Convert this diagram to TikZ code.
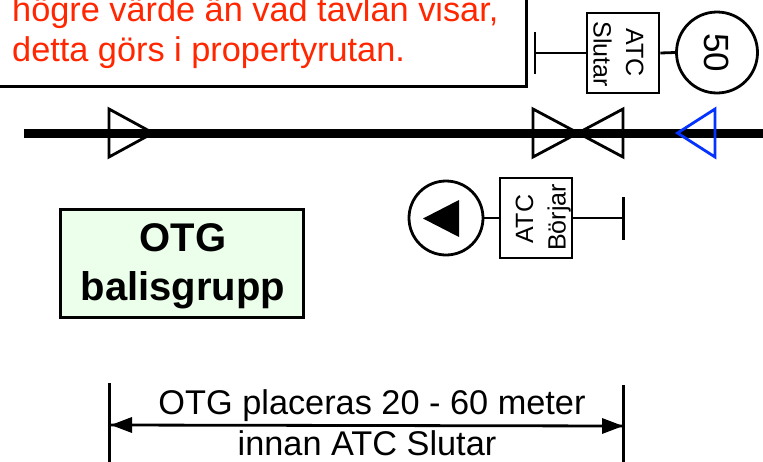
\documentclass[tikz,border=0pt]{standalone}
\usepackage{fontspec}
\setmainfont{Liberation Sans}
\definecolor{alarmred}{RGB}{255,38,0}
\definecolor{signalblue}{RGB}{4,51,255}
\definecolor{otggreen}{RGB}{235,255,235}
\tikzset{
  lw/.style={line width=2.8pt,black},
  tri/.style={line width=2.8pt,miter limit=10,line join=miter},
  redtext/.style={anchor=base west,inner sep=0pt,text=alarmred,font=\fontsize{34.3}{40}\selectfont},
  dimtext/.style={anchor=base,inner sep=0pt,font=\fontsize{34.3}{40}\selectfont},
  atcbox/.style={draw,line width=2.8pt,fill=white,inner sep=0pt,minimum width=72pt,minimum height=80pt},
  atctext/.style={anchor=base,inner sep=0pt,font=\fontsize{25}{30}\selectfont},
  sigcircle/.style={draw,circle,line width=2.8pt,inner sep=0pt,fill=white},
}
\begin{document}
\begin{tikzpicture}[x=1pt,y=-1pt]
\useasboundingbox (0,0) rectangle (763,461);
\clip (0,0) rectangle (763,461);
% text panel
\node[draw,line width=3pt,fill=white,minimum width=560pt,minimum height=110pt,inner sep=0pt] (panel) at (246.5,31) {};
\node[redtext] (line1) at (12,21) {högre värde än vad tavlan visar,};
\node[redtext] (line2) at (12,61) {detta görs i propertyrutan.};
% track
\coordinate (trackL) at (24,133.5);
\coordinate (trackR) at (770,133.5);
% triangles
\draw[tri] (109,109) -- (153,133) -- (109,157) -- cycle;
\draw[tri] (533,109) -- (578,133) -- (533,157) -- cycle;
\draw[tri] (623,109) -- (578,133) -- (623,157) -- cycle;
\draw[line width=8.5pt] (trackL) -- (trackR);
\draw[tri,signalblue] (715,109) -- (677.5,133) -- (715,157) -- cycle;
% ATC Slutar
\node[atcbox] (slutar) at (623,53) {};
\node[atctext,rotate=-90] (slutarA) at (626,52.5) {ATC};
\node[atctext,rotate=-90] (slutarB) at (593.5,54) {Slutar};
\node[sigcircle,minimum size=81pt] (c50) at (717,52.5) {\rotatebox{-90}{\fontsize{35}{35}\selectfont 50}};
\coordinate (tS) at (535,53);
\coordinate (tS1) at (535,32);
\coordinate (tS2) at (535,74);
\draw[lw] (tS1) -- (tS2);
\draw[lw] (tS) -- (slutar.west);
\draw[lw] (slutar.east) -- (c50.west);
% ATC Borjar
\node[atcbox] (borjar) at (536,218) {};
\node[atctext,rotate=90] (borjarA) at (533,219) {ATC};
\node[atctext,rotate=90] (borjarB) at (565.5,217.5) {Börjar};
\node[sigcircle,minimum size=74pt] (cB) at (446,218) {};
\fill (423,218.5) -- (459,200) -- (459,237) -- cycle;
\coordinate (tB) at (623.5,218);
\coordinate (tB1) at (623.5,197);
\coordinate (tB2) at (623.5,240);
\draw[lw] (tB1) -- (tB2);
\draw[lw] (borjar.east) -- (tB);
\draw[lw] (cB.east) -- (borjar.west);
% OTG box
\node[draw,line width=2.5pt,fill=otggreen,minimum width=243pt,minimum height=108pt,inner sep=0pt] (otg) at (182,263.5) {};
\node[anchor=base,inner sep=0pt,font=\fontsize{40}{48}\selectfont\bfseries] (otg1) at (183,251) {OTG};
\node[anchor=base,inner sep=0pt,font=\fontsize{40}{48}\selectfont\bfseries] (otg2) at (183,300) {balisgrupp};
% dimension
\coordinate (dL1) at (109.5,383);
\coordinate (dL2) at (109.5,465);
\coordinate (dR1) at (623.5,385);
\coordinate (dR2) at (623.5,465);
\coordinate (aL) at (111,425);
\coordinate (aR) at (623,426);
\draw[lw] (dL1) -- (dL2);
\draw[lw] (dR1) -- (dR2);
\fill (aL) -- (132,417) -- (132,433) -- cycle;
\fill (aR) -- (602,418) -- (602,434) -- cycle;
\draw[lw] (aL) -- (aR);
\node[dimtext] (dt1) at (372,414) {OTG placeras 20 - 60 meter};
\node[dimtext] (dt2) at (367,455) {innan ATC Slutar};
\end{tikzpicture}
\end{document}
